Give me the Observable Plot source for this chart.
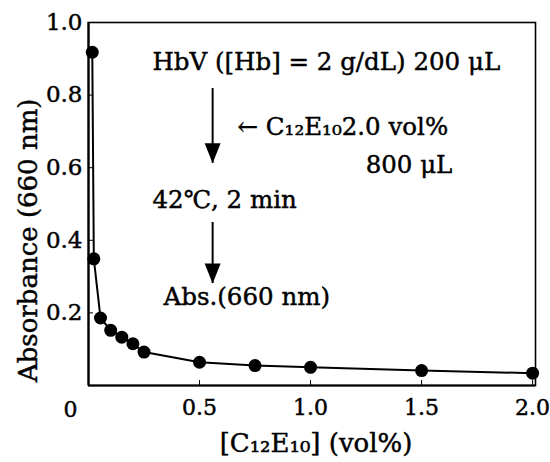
<!DOCTYPE html>
<html>
<head>
<meta charset="utf-8">
<script src="https://cdn.jsdelivr.net/npm/d3@7"></script>
<script src="https://cdn.jsdelivr.net/npm/@observablehq/plot@0.6"></script>
<style>
  html, body { margin: 0; padding: 0; background: #fff; }
  #chart svg { display: block; }
  /* slightly heavier serif lettering */
  #chart svg text { stroke: black; stroke-width: 0.45px; }
</style>
</head>
<body>
<div id="chart"></div>
<script>
// Surfactant concentration (vol%) and measured absorbance at 660 nm
const conc = [0.017, 0.024, 0.054, 0.1, 0.15, 0.2, 0.25, 0.5, 0.75, 1.0, 1.5, 2.0];
const absorbance = [0.918, 0.349, 0.186, 0.152, 0.133, 0.115, 0.092, 0.064, 0.055, 0.050, 0.041, 0.034];

const xTicks = [0.5, 1.0, 1.5, 2.0];
const yTicks = [0.2, 0.4, 0.6, 0.8, 1.0];

const xLabel = "[C₁₂E₁₀] (vol%)";
const yLabel = "Absorbance (660 nm)";

// Procedure notes written inside the plot area
const notes = [
  {text: "HbV ([Hb] = 2 g/dL) 200 μL", x: 0.288, y: 0.89},
  {text: "← C₁₂E₁₀2.0 vol%", x: 0.671, y: 0.711},
  {text: "800 μL", x: 1.248, y: 0.606},
  {text: "42℃, 2 min", x: 0.288, y: 0.51},
  {text: "Abs.(660 nm)", x: 0.338, y: 0.242}
];

// Downward process arrows: shaft from y1 to y2, head tip at y2
const steps = [
  {x: 0.559, y1: 0.818, y2: 0.612},
  {x: 0.559, y1: 0.449, y2: 0.281}
];

const data = conc.map((c, i) => ({conc: c, abs: absorbance[i]}));

// Filled, slightly elongated arrowhead drawn with its tip at the anchor
const headDown = {
  draw(context, size) {
    const r = Math.sqrt(size / Math.PI);
    context.moveTo(0, 0);
    context.lineTo(-0.8 * r, -2 * r);
    context.lineTo(0.8 * r, -2 * r);
    context.closePath();
  }
};

const chart = Plot.plot({
  width: 550,
  height: 462,
  marginTop: 22,
  marginRight: 15,
  marginBottom: 77,
  marginLeft: 88,
  style: {fontFamily: "DejaVu Serif", fontSize: "22px", color: "black", background: "white"},
  x: {domain: [0, 2.013]},
  y: {domain: [0, 1]},
  marks: [
    Plot.frame({strokeWidth: 1.6}),
    Plot.ruleX([0], {strokeWidth: 2.2}),
    Plot.ruleY([0], {strokeWidth: 2.2}),
    // inward tick marks
    Plot.axisX({ticks: xTicks, tickSize: -5, tickFormat: () => "", label: null, strokeWidth: 1}),
    Plot.axisY({ticks: yTicks, tickSize: -5, tickFormat: () => "", label: null, strokeWidth: 1}),
    // tick labels
    Plot.axisX({ticks: xTicks, tickSize: 0, tickPadding: 14, tickFormat: d3.format(".1f"), label: null, fontSize: 22}),
    Plot.axisY({ticks: yTicks, tickSize: 0, tickPadding: 6, tickFormat: d3.format(".1f"), label: null, fontSize: 23}),
    Plot.text(["0"], {x: 0, y: 0, dx: -18, dy: 24, fontSize: 22}),
    // axis titles
    Plot.text([xLabel], {frameAnchor: "bottom", dx: 4, dy: 66, fontSize: 26}),
    Plot.text([yLabel], {frameAnchor: "left", y: () => 0.4, dx: -60, rotate: -90, textAnchor: "middle", fontSize: 26}),
    // measured curve
    Plot.line(data, {x: "conc", y: "abs", stroke: "black", strokeWidth: 2}),
    Plot.dot(data, {x: "conc", y: "abs", r: 6.5, fill: "black"}),
    // procedure notes and arrows
    Plot.text(notes, {x: "x", y: "y", text: "text", textAnchor: "start", fontSize: 24.5}),
    Plot.ruleX(steps, {x: "x", y1: "y1", y2: "y2", strokeWidth: 2}),
    Plot.dot(steps, {x: "x", y: "y2", r: 10, symbol: headDown, fill: "black", stroke: null})
  ]
});

document.getElementById("chart").appendChild(chart);
</script>
</body>
</html>
